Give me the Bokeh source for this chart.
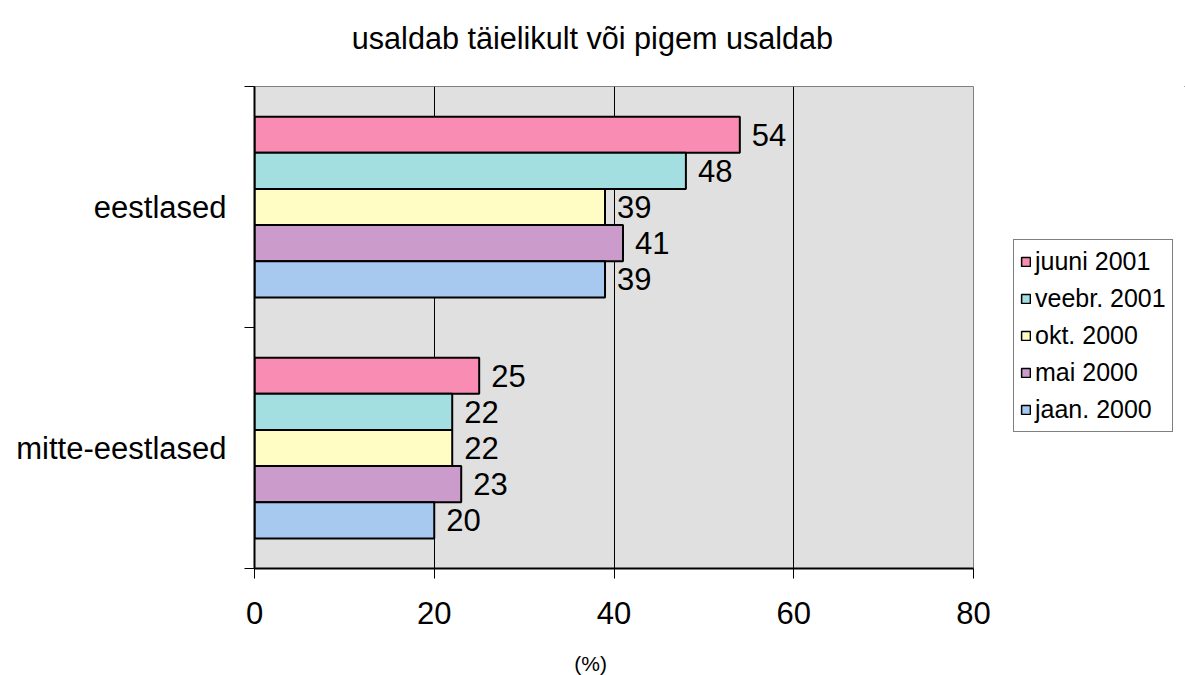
from bokeh.plotting import figure
from bokeh.models import ColumnDataSource, FixedTicker, Legend, LegendItem
from bokeh.layouts import row, column
from bokeh.embed import file_html
from bokeh.resources import INLINE

categories = ["eestlased", "mitte-eestlased"]
series = ["juuni 2001", "veebr. 2001", "okt. 2000", "mai 2000", "jaan. 2000"]
juuni_2001 = [54, 25]
veebr_2001 = [48, 22]
okt_2000 = [39, 22]
mai_2000 = [41, 23]
jaan_2000 = [39, 20]
colors = ["#F88CB2", "#A3DFE0", "#FFFDC3", "#CB9BCB", "#A8C9EF"]
x_ticks = [0, 20, 40, 60, 80]
title_text = "usaldab täielikult või pigem usaldab"
x_label = "(%)"

values = [juuni_2001, veebr_2001, okt_2000, mai_2000, jaan_2000]
cat_center = {"eestlased": 1.5, "mitte-eestlased": 0.5}
offsets = [0.3, 0.15, 0.0, -0.15, -0.3]
FONT = "Liberation Sans"


def strip(fig):
    fig.axis.visible = False
    fig.grid.visible = False
    fig.outline_line_color = None
    fig.background_fill_color = "white"
    fig.border_fill_color = "white"


p = figure(width=1005, height=580, x_range=(0, 80), y_range=(0, 2),
           output_backend="svg", toolbar_location=None,
           min_border_left=254, min_border_right=32, min_border_top=26, min_border_bottom=72)

p.background_fill_color = "#E0E0E0"
p.border_fill_color = "white"
p.outline_line_color = "#808080"
p.outline_line_width = 1

# title strip
top = figure(width=1005, height=60, x_range=p.x_range, y_range=(0, 60),
             output_backend="svg", toolbar_location=None,
             min_border_left=254, min_border_right=32, min_border_top=0, min_border_bottom=0)
strip(top)
top.text(x=[37.6], y=[23], text=[title_text], text_align="center", text_baseline="middle",
         text_font={"value": FONT}, text_font_size="30.6px", text_color="black")

# axis-title strip
bot = figure(width=1005, height=35, x_range=p.x_range, y_range=(0, 35),
             output_backend="svg", toolbar_location=None,
             min_border_left=254, min_border_right=32, min_border_top=0, min_border_bottom=0)
strip(bot)
bot.text(x=[37.4], y=[12], text=[x_label], text_align="center", text_baseline="middle",
         text_font={"value": FONT}, text_font_size="21px", text_color="black")

# legend figure
lg = figure(width=180, height=580, x_range=(0, 1), y_range=(0, 1),
            output_backend="svg", toolbar_location=None,
            min_border_left=0, min_border_right=0, min_border_top=0, min_border_bottom=0)
strip(lg)

items = []
for name, vals, off, col in zip(series, values, offsets, colors):
    ys = [cat_center[c] + off for c in categories]
    src = ColumnDataSource(dict(y=ys, right=vals, lab=[str(v) for v in vals]))
    p.hbar(y="y", left=0, right="right", height=0.15, source=src,
           fill_color=col, line_color="black", line_width=2)
    p.text(x="right", y="y", text="lab", source=src, x_offset=12,
           text_baseline="middle", text_align="left",
           text_font_size="31px", text_color="black", text_font={"value": FONT})
    # off-screen swatch carrier for the legend
    dummy = lg.hbar(y=[10], left=[10], right=[11], height=0.1,
                    fill_color=col, line_color="black", line_width=1.5)
    items.append(LegendItem(label=name, renderers=[dummy]))

# axes
p.xaxis.ticker = FixedTicker(ticks=x_ticks)
p.xaxis.axis_line_color = "black"
p.xaxis.axis_line_width = 2
p.xaxis.major_tick_in = 0
p.xaxis.major_tick_out = 10
p.xaxis.major_tick_line_color = "black"
p.xaxis.major_tick_line_width = 1
p.xaxis.minor_tick_line_color = None
p.xaxis.major_label_text_font = FONT
p.xaxis.major_label_text_font_size = "31px"
p.xaxis.major_label_text_color = "black"
p.xaxis.major_label_standoff = 23

p.yaxis.ticker = FixedTicker(ticks=[0.5, 1.5], minor_ticks=[0, 1, 2])
p.yaxis.major_label_overrides = {0.5: "mitte-eestlased", 1.5: "eestlased"}
p.yaxis.axis_line_color = "black"
p.yaxis.axis_line_width = 2
p.yaxis.major_tick_line_color = None
p.yaxis.major_tick_in = 0
p.yaxis.major_tick_out = 0
p.yaxis.minor_tick_line_color = "black"
p.yaxis.minor_tick_line_width = 1
p.yaxis.minor_tick_in = 0
p.yaxis.minor_tick_out = 10
p.yaxis.major_label_standoff = 18
p.yaxis.major_label_text_font = FONT
p.yaxis.major_label_text_font_size = "31px"
p.yaxis.major_label_text_color = "black"

p.xgrid.ticker = FixedTicker(ticks=[20, 40, 60])
p.xgrid.grid_line_color = "black"
p.xgrid.grid_line_width = 1
p.ygrid.grid_line_color = None

legend = Legend(items=items, location=(8, 136), margin=0, padding=6, spacing=6,
                label_height=31, glyph_width=11, glyph_height=11, label_standoff=4,
                label_text_font=FONT, label_text_font_size="25px", label_text_color="black",
                border_line_color="black", border_line_width=1,
                background_fill_color="white", background_fill_alpha=1)
lg.add_layout(legend)

layout = column(top, row(p, lg), bot)
open("out.html", "w").write(file_html(layout, INLINE))
